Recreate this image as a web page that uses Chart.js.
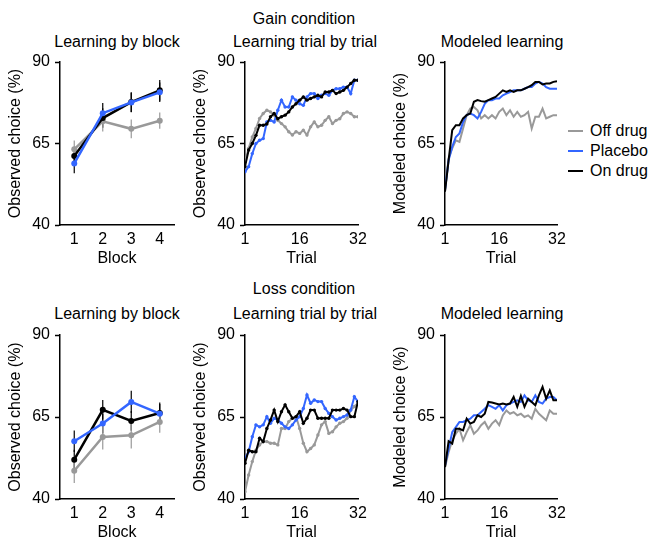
<!DOCTYPE html>
<html>
<head>
<meta charset="utf-8">
<script src="https://cdn.jsdelivr.net/npm/chart.js@4.4.0/dist/chart.umd.min.js"></script>
<style>
  html, body { margin: 0; padding: 0; background: #fff; overflow: hidden; }
  body { width: 649px; height: 540px; position: relative; font-family: "Liberation Sans", Arial, sans-serif; }
  .box { position: absolute; }
  .txt { position: absolute; font-size: 16px; line-height: 1; white-space: nowrap; transform: translate(-50%, -50%); color: #000; }
  .leg { position: absolute; font-size: 16px; line-height: 1; white-space: nowrap; color: #000; }
  .leg span { display: inline-block; width: 15px; height: 2px; vertical-align: middle; margin-right: 7px; position: relative; top: -1px; }
</style>
</head>
<body>

<div class="txt" style="left:304px;top:19px">Gain condition</div>
<div class="txt" style="left:117px;top:42px">Learning by block</div>
<div class="txt" style="left:305px;top:42px">Learning trial by trial</div>
<div class="txt" style="left:502px;top:42px">Modeled learning</div>

<div class="txt" style="left:304px;top:289px">Loss condition</div>
<div class="txt" style="left:117px;top:314px">Learning by block</div>
<div class="txt" style="left:305px;top:314px">Learning trial by trial</div>
<div class="txt" style="left:502px;top:314px">Modeled learning</div>

<div class="leg" style="left:568px;top:123px"><span style="background:#999999"></span>Off drug</div>
<div class="leg" style="left:568px;top:143px"><span style="background:#3366ff"></span>Placebo</div>
<div class="leg" style="left:568px;top:163px"><span style="background:#000000"></span>On drug</div>

<div class="box" id="b1"><canvas id="c1"></canvas></div>
<div class="box" id="b2"><canvas id="c2"></canvas></div>
<div class="box" id="b3"><canvas id="c3"></canvas></div>
<div class="box" id="b4"><canvas id="c4"></canvas></div>
<div class="box" id="b5"><canvas id="c5"></canvas></div>
<div class="box" id="b6"><canvas id="c6"></canvas></div>

<script>
const OFF_COLOR = '#999999';
const PLACEBO_COLOR = '#3366ff';
const ON_COLOR = '#000000';

const BLOCKS = [1, 2, 3, 4];
const TRIALS = [1, 2, 3, 4, 5, 6, 7, 8, 9, 10, 11, 12, 13, 14, 15, 16,
                17, 18, 19, 20, 21, 22, 23, 24, 25, 26, 27, 28, 29, 30, 31, 32];
const Y_TICKS = [40, 65, 90];
const TRIAL_TICKS = [1, 16, 32];

// gain condition, by block (mean and error)
const gainBlockOff = [63.2, 71.8, 69.5, 72.0];
const gainBlockOffErr = [2.7, 3.1, 2.9, 2.5];
const gainBlockPlacebo = [58.9, 74.3, 77.6, 80.7];
const gainBlockPlaceboErr = [3.0, 3.1, 3.0, 3.0];
const gainBlockOn = [61.2, 72.8, 77.7, 81.3];
const gainBlockOnErr = [2.5, 3.0, 3.0, 3.2];

// gain condition, observed trial by trial
const gainTrialOff = [59.4, 63.5, 67.0, 69.6, 72.7, 74.2, 75.2, 74.7, 73.7, 72.1, 71.1, 70.1, 68.6, 67.6, 68.6, 68.1,
                      69.1, 67.6, 70.1, 71.6, 70.1, 70.6, 72.1, 73.2, 71.1, 72.1, 72.6, 74.2, 74.7, 74.2, 73.2, 73.2];
const gainTrialPlacebo = [56.3, 57.9, 61.9, 65.0, 66.0, 66.5, 71.6, 72.1, 71.6, 75.2, 78.3, 76.2, 76.2, 79.3, 78.3, 77.2,
                          76.7, 79.3, 80.3, 80.3, 78.8, 79.8, 80.3, 79.8, 81.3, 81.8, 81.8, 82.3, 82.3, 80.3, 84.4, 84.4];
const gainTrialOn = [57.9, 63.0, 65.0, 67.5, 70.6, 70.6, 71.0, 73.2, 74.2, 72.6, 73.2, 73.7, 74.7, 76.2, 77.2, 78.3,
                     79.3, 78.3, 78.8, 79.3, 79.8, 79.3, 80.8, 80.8, 81.3, 80.3, 80.8, 81.3, 82.3, 83.4, 84.4, 84.4];

// gain condition, modeled
const gainModelOff = [50.7, 60.4, 63.5, 66.0, 65.5, 69.6, 73.7, 75.7, 76.2, 75.2, 72.7, 73.7, 72.7, 73.7, 72.7, 74.7,
                      75.7, 73.7, 75.2, 73.2, 74.7, 73.2, 73.7, 74.7, 69.6, 73.2, 73.2, 75.7, 72.7, 73.2, 73.7, 73.7];
const gainModelPlacebo = [50.7, 59.9, 64.0, 67.0, 68.1, 71.6, 73.7, 74.2, 73.7, 72.7, 74.7, 77.2, 78.3, 78.3, 78.8, 78.8,
                          79.8, 80.3, 80.8, 81.3, 81.3, 81.3, 81.8, 82.3, 82.3, 83.4, 83.9, 83.4, 82.3, 81.8, 81.8, 81.8];
const gainModelOn = [50.2, 59.9, 69.1, 70.6, 70.6, 72.7, 73.7, 74.2, 77.8, 78.3, 78.0, 77.8, 78.3, 78.8, 79.3, 80.3,
                     81.3, 80.8, 81.3, 80.8, 81.3, 81.3, 81.8, 82.3, 82.9, 83.9, 83.9, 83.1, 83.4, 83.4, 83.9, 84.1];

// loss condition, by block
const lossBlockOff = [48.6, 58.9, 59.4, 63.5];
const lossBlockOffErr = [3.7, 3.8, 4.0, 3.3];
const lossBlockPlacebo = [57.6, 63.0, 69.6, 66.0];
const lossBlockPlaceboErr = [3.3, 3.0, 3.4, 3.0];
const lossBlockOn = [52.0, 67.2, 63.8, 66.2];
const lossBlockOnErr = [3.0, 3.0, 3.0, 3.2];

// loss condition, observed trial by trial
const lossTrialOff = [42.2, 47.3, 51.4, 54.9, 56.5, 57.5, 57.5, 57.0, 57.0, 56.5, 61.5, 61.5, 63.6, 64.6, 65.1, 61.5,
                      57.0, 54.4, 55.4, 56.5, 59.5, 62.6, 63.6, 60.0, 60.5, 62.0, 63.1, 63.6, 64.6, 67.1, 68.2, 69.2];
const lossTrialPlacebo = [52.4, 54.4, 59.0, 62.6, 62.0, 62.6, 65.1, 63.1, 64.6, 64.1, 63.1, 62.0, 61.5, 62.6, 64.1, 65.1,
                          67.6, 71.7, 69.2, 70.2, 69.7, 69.7, 67.6, 66.1, 65.1, 64.1, 64.6, 65.1, 65.6, 67.1, 71.2, 69.7];
const lossTrialOn = [50.9, 54.9, 54.4, 54.4, 58.5, 57.5, 61.5, 64.1, 67.1, 63.6, 66.6, 68.7, 66.6, 64.6, 65.1, 66.6,
                     63.1, 64.6, 67.1, 67.1, 64.6, 64.6, 64.6, 64.6, 67.1, 67.1, 67.1, 67.6, 67.1, 65.1, 65.1, 69.7];

// loss condition, modeled
const lossModelOff = [49.7, 54.3, 57.9, 59.9, 61.4, 57.9, 60.4, 62.5, 59.9, 60.9, 62.5, 63.5, 61.4, 63.0, 64.0, 62.5,
                      65.5, 67.0, 66.0, 66.5, 65.5, 66.0, 65.0, 65.5, 64.5, 67.5, 66.0, 65.0, 64.0, 67.0, 66.0, 66.0];
const lossModelPlacebo = [50.3, 55.3, 60.4, 61.9, 63.5, 63.5, 64.0, 64.5, 65.5, 65.5, 66.5, 67.5, 68.6, 68.1, 67.5, 68.6,
                          67.0, 68.6, 69.1, 69.6, 70.1, 69.6, 71.6, 70.1, 69.6, 71.6, 69.6, 69.1, 70.6, 71.1, 71.1, 70.1];
const lossModelOn = [49.7, 57.6, 56.9, 61.4, 61.4, 60.9, 64.5, 63.0, 63.5, 65.5, 65.0, 66.0, 69.6, 69.4, 69.1, 68.8,
                     69.1, 68.8, 69.1, 71.1, 68.1, 71.4, 68.1, 70.6, 69.6, 68.6, 71.6, 74.2, 70.6, 73.1, 70.1, 70.1];

Chart.defaults.font.family = '"Liberation Sans", Arial, sans-serif';
Chart.defaults.font.size = 16;
Chart.defaults.color = '#000';

// vertical error bars, drawn through the chart's own scales
const errorBars = {
  id: 'errorBars',
  beforeDatasetsDraw(chart) {
    const {ctx, scales: {x, y}} = chart;
    chart.data.datasets.forEach(ds => {
      if (!ds.errors) return;
      ctx.save();
      ctx.strokeStyle = ds.errorColor;
      ctx.lineWidth = 1.2;
      ds.data.forEach((p, i) => {
        const px = x.getPixelForValue(p.x);
        ctx.beginPath();
        ctx.moveTo(px, y.getPixelForValue(p.y - ds.errors[i]));
        ctx.lineTo(px, y.getPixelForValue(p.y + ds.errors[i]));
        ctx.stroke();
      });
      ctx.restore();
    });
  }
};

function series(xs, ys, color, opts) {
  return Object.assign({
    data: xs.map((v, i) => ({x: v, y: ys[i]})),
    borderColor: color,
    backgroundColor: color,
    borderWidth: 2,
    pointRadius: 0,
    pointBorderWidth: 0,
    tension: 0
  }, opts || {});
}

function makePanel(n, axisLeft, axisRight, areaTop, areaBottom, cfg) {
  const left = axisLeft - 60;
  const top = areaTop - 20;
  const width = axisRight + 20 - left;
  const height = areaBottom + 43 - top;
  const box = document.getElementById('b' + n);
  box.style.left = left + 'px';
  box.style.top = top + 'px';
  box.style.width = width + 'px';
  box.style.height = height + 'px';

  new Chart(document.getElementById('c' + n), {
    type: 'line',
    data: { datasets: cfg.datasets },
    plugins: [errorBars],
    options: {
      responsive: true,
      maintainAspectRatio: false,
      animation: false,
      layout: { padding: { left: 0, top: 20, right: 20, bottom: 0 } },
      plugins: { legend: { display: false }, tooltip: { enabled: false } },
      scales: {
        x: {
          type: 'linear',
          min: cfg.xMin,
          max: cfg.xMax,
          afterBuildTicks: s => { s.ticks = cfg.xTicks.map(v => ({value: v})); },
          afterFit: s => { s.height = 43; },
          grid: { display: true, drawOnChartArea: false, drawTicks: false },
          border: { color: '#000', width: 1.5 },
          ticks: { padding: 5, maxRotation: 0, autoSkip: false, font: { size: 16 } },
          title: { display: true, text: cfg.xTitle, padding: 0, font: { size: 16 } }
        },
        y: {
          min: 40,
          max: 90,
          afterBuildTicks: s => { s.ticks = Y_TICKS.map(v => ({value: v})); },
          afterFit: s => { s.width = 60; },
          grid: { display: true, drawOnChartArea: false, drawTicks: true, tickLength: 5, color: '#000', tickWidth: 1.5 },
          border: { color: '#000', width: 1.5 },
          ticks: { padding: 5, font: { size: 16 } },
          title: { display: true, text: cfg.yTitle, padding: { top: 6, bottom: 0 }, font: { size: 16 } }
        }
      }
    }
  });
}

function blockSets(off, offErr, pla, plaErr, on, onErr) {
  const o = { borderWidth: 2.5, pointRadius: 3 };
  return [
    series(BLOCKS, pla, PLACEBO_COLOR, Object.assign({ order: 0, errors: plaErr, errorColor: '#000' }, o)),
    series(BLOCKS, on, ON_COLOR, Object.assign({ order: 1, errors: onErr, errorColor: '#000' }, o)),
    series(BLOCKS, off, OFF_COLOR, Object.assign({ order: 2, errors: offErr, errorColor: OFF_COLOR }, o))
  ];
}

function trialSets(off, pla, on, radius) {
  const o = { borderWidth: 2, pointRadius: radius };
  return [
    series(TRIALS, on, ON_COLOR, Object.assign({ order: 0 }, o)),
    series(TRIALS, pla, PLACEBO_COLOR, Object.assign({ order: 1 }, o)),
    series(TRIALS, off, OFF_COLOR, Object.assign({ order: 2 }, o))
  ];
}

makePanel(1, 60, 174, 62, 225, {
  xMin: 0.5, xMax: 4.5, xTicks: BLOCKS, xTitle: 'Block', yTitle: 'Observed choice (%)',
  datasets: blockSets(gainBlockOff, gainBlockOffErr, gainBlockPlacebo, gainBlockPlaceboErr, gainBlockOn, gainBlockOnErr)
});
makePanel(2, 245, 358, 62, 225, {
  xMin: 1, xMax: 32, xTicks: TRIAL_TICKS, xTitle: 'Trial', yTitle: 'Observed choice (%)',
  datasets: trialSets(gainTrialOff, gainTrialPlacebo, gainTrialOn, 1.7)
});
makePanel(3, 445, 557, 62, 225, {
  xMin: 1, xMax: 32, xTicks: TRIAL_TICKS, xTitle: 'Trial', yTitle: 'Modeled choice (%)',
  datasets: trialSets(gainModelOff, gainModelPlacebo, gainModelOn, 0)
});
makePanel(4, 60, 174, 335, 499, {
  xMin: 0.5, xMax: 4.5, xTicks: BLOCKS, xTitle: 'Block', yTitle: 'Observed choice (%)',
  datasets: blockSets(lossBlockOff, lossBlockOffErr, lossBlockPlacebo, lossBlockPlaceboErr, lossBlockOn, lossBlockOnErr)
});
makePanel(5, 245, 358, 335, 499, {
  xMin: 1, xMax: 32, xTicks: TRIAL_TICKS, xTitle: 'Trial', yTitle: 'Observed choice (%)',
  datasets: trialSets(lossTrialOff, lossTrialPlacebo, lossTrialOn, 1.7)
});
makePanel(6, 445, 557, 335, 499, {
  xMin: 1, xMax: 32, xTicks: TRIAL_TICKS, xTitle: 'Trial', yTitle: 'Modeled choice (%)',
  datasets: trialSets(lossModelOff, lossModelPlacebo, lossModelOn, 0)
});
</script>
</body>
</html>
